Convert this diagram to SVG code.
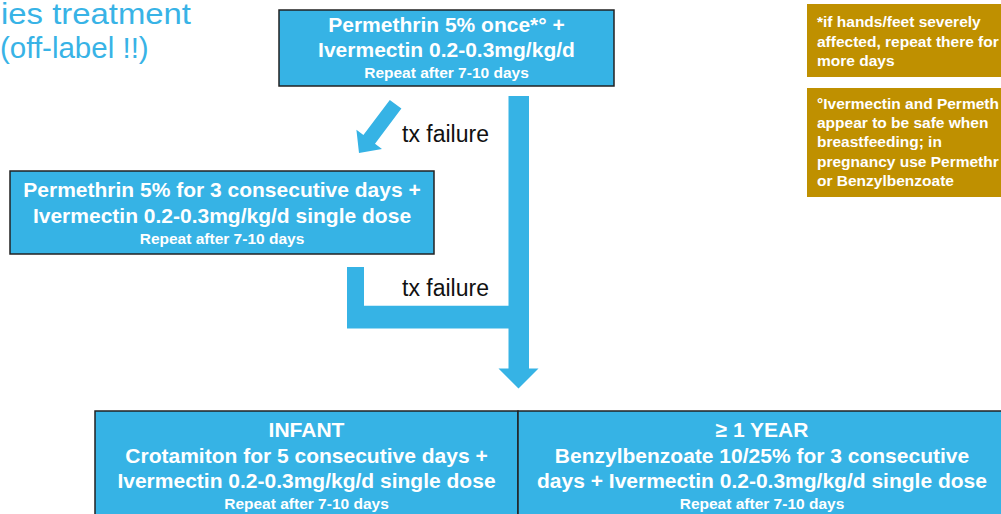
<svg xmlns="http://www.w3.org/2000/svg" width="1001" height="514" viewBox="0 0 1001 514">
<style>
.box{fill:#36b3e5;stroke:#222;stroke-width:1.5}
.note{fill:#bf9000}
.t{font-family:"Liberation Sans",Arial,sans-serif;font-weight:bold;fill:#fff;text-anchor:middle}
.big{font-size:21px}
.small{font-size:15.5px}
.n{font-family:"Liberation Sans",Arial,sans-serif;font-weight:bold;fill:#fff;font-size:15.5px}
.lbl{font-family:"Liberation Sans",Arial,sans-serif;font-size:23px;fill:#111}
.arrow{fill:#36b3e5}
.title{font-family:"Liberation Sans",Arial,sans-serif;fill:#38b3e6}
</style>
<rect width="1001" height="514" fill="#fff"/>
<g id="title">
<text class="title" x="1" y="24" font-size="29" textLength="190" lengthAdjust="spacingAndGlyphs">ies treatment</text>
<text class="title" x="0" y="58" font-size="29.5">(off-label !!)</text>
</g>
<g id="connectors">
<polygon class="arrow" points="359,153 382,149 375,143.7 401.4,108.5 389.8,99.9 363.4,135.1 356.4,129.8"/>
<polygon class="arrow" points="508.5,96 529,96 529,368.5 538.5,368.5 518.5,388.5 498.5,368.5 508.5,368.5 508.5,328.5 347,328.5 347,267 364,267 364,305.7 508.5,305.7"/>
<text class="lbl" x="402" y="142">tx failure</text>
<text class="lbl" x="402" y="296">tx failure</text>
</g>
<g id="node-start">
<rect class="box" x="279" y="10" width="335" height="76"/>
<text class="t big" x="446.5" y="32">Permethrin 5% once*° +</text>
<text class="t big" x="446.5" y="57">Ivermectin 0.2-0.3mg/kg/d</text>
<text class="t small" x="446.5" y="78">Repeat after 7-10 days</text>
</g>
<g id="node-second">
<rect class="box" x="10" y="171" width="424" height="83"/>
<text class="t big" x="222" y="197">Permethrin 5% for 3 consecutive days +</text>
<text class="t big" x="222" y="223">Ivermectin 0.2-0.3mg/kg/d single dose</text>
<text class="t small" x="222" y="244">Repeat after 7-10 days</text>
</g>
<g id="node-infant">
<rect class="box" x="95" y="411" width="423" height="110"/>
<text class="t big" x="306.5" y="437">INFANT</text>
<text class="t big" x="306.5" y="463">Crotamiton for 5 consecutive days +</text>
<text class="t big" x="306.5" y="488">Ivermectin 0.2-0.3mg/kg/d single dose</text>
<text class="t small" x="306.5" y="509">Repeat after 7-10 days</text>
</g>
<g id="node-year">
<rect class="box" x="518" y="411" width="500" height="110"/>
<text class="t big" x="762" y="437">≥ 1 YEAR</text>
<text class="t big" x="762" y="463">Benzylbenzoate 10/25% for 3 consecutive</text>
<text class="t big" x="762" y="488">days + Ivermectin 0.2-0.3mg/kg/d single dose</text>
<text class="t small" x="762" y="509">Repeat after 7-10 days</text>
</g>
<g id="note-1">
<rect class="note" x="807" y="4" width="200" height="73"/>
<text class="n" x="817" y="27">*if hands/feet severely</text>
<text class="n" x="817" y="47">affected, repeat there for</text>
<text class="n" x="817" y="66">more days</text>
</g>
<g id="note-2">
<rect class="note" x="807" y="88" width="200" height="109"/>
<text class="n" x="817" y="109">°Ivermectin and Permeth</text>
<text class="n" x="817" y="128">appear to be safe when</text>
<text class="n" x="817" y="147">breastfeeding; in</text>
<text class="n" x="817" y="167">pregnancy use Permethr</text>
<text class="n" x="817" y="186">or Benzylbenzoate</text>
</g>
</svg>
